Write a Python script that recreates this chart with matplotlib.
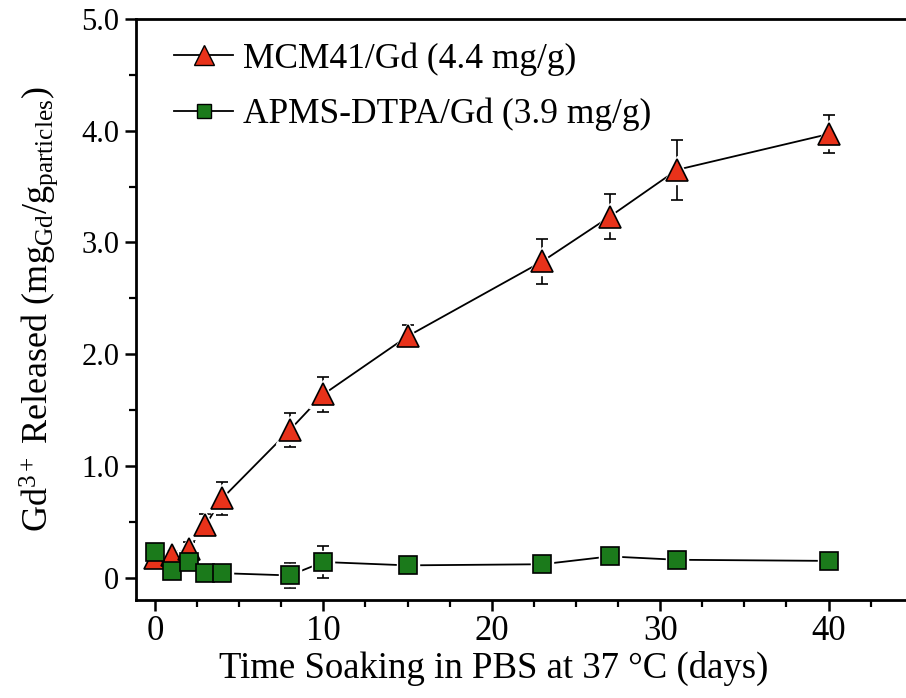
import matplotlib
matplotlib.use("Agg")
import matplotlib.pyplot as plt
from matplotlib.ticker import MultipleLocator, FixedFormatter, FixedLocator

plt.rcParams['font.family'] = ['Liberation Serif', 'DejaVu Serif']
plt.rcParams['mathtext.fontset'] = 'custom'
plt.rcParams['mathtext.rm'] = 'Liberation Serif'
plt.rcParams['mathtext.it'] = 'Liberation Serif:italic'

days = [0, 1, 2, 3, 4, 8, 10, 15, 23, 27, 31, 40]

mcm_vals = [0.18, 0.20, 0.26, 0.47, 0.71, 1.32, 1.64, 2.16, 2.83, 3.23, 3.65, 3.97]
mcm_err = [0.04, 0.04, 0.06, 0.10, 0.15, 0.15, 0.16, 0.10, 0.20, 0.20, 0.27, 0.17]

apms_vals = [0.23, 0.06, 0.14, 0.04, 0.04, 0.02, 0.14, 0.11, 0.12, 0.19, 0.16, 0.15]
apms_err = [0.05, 0.04, 0.05, 0.02, 0.02, 0.11, 0.14, 0.02, 0.03, 0.05, 0.06, 0.02]

labels = ['MCM41/Gd (4.4 mg/g)', 'APMS-DTPA/Gd (3.9 mg/g)']
ytick_vals = [0, 1, 2, 3, 4, 5]
ytick_labels = ['0', '1.0', '2.0', '3.0', '4.0', '5.0']

fig = plt.figure(figsize=(9.06, 6.98), dpi=100)
ax = fig.add_axes([0.150, 0.1404, 0.850, 0.8324])

red = '#e8321a'
green = '#1b7a1b'

# error bars first, then line + markers on top
ax.errorbar(days, mcm_vals, yerr=mcm_err, fmt='none', ecolor='black',
            elinewidth=1.2, capsize=4, capthick=1.2, zorder=2)
ax.errorbar(days, apms_vals, yerr=apms_err, fmt='none', ecolor='black',
            elinewidth=1.2, capsize=4, capthick=1.2, zorder=2)

ax.plot(days, mcm_vals, color='black', lw=1.3, zorder=3)
ax.plot(days, apms_vals, color='black', lw=1.3, zorder=3)

# white halo behind markers so the line stops short of them
ax.plot(days, mcm_vals, ls='none', marker='^', ms=20, color='white', zorder=4)
ax.plot(days, apms_vals, ls='none', marker='s', ms=16, color='white', zorder=4)

ax.plot(days, mcm_vals, ls='none', marker='^', ms=16, mfc=red, mec='black',
        mew=1.2, zorder=5)
ax.plot(days, apms_vals, ls='none', marker='s', ms=12.5, mfc=green, mec='black',
        mew=1.2, zorder=5)

# legend handles
h1, = ax.plot([], [], color='black', lw=1.3, marker='^', ms=15, mfc=red,
              mec='black', mew=1.0, label=labels[0])
h2, = ax.plot([], [], color='black', lw=1.3, marker='s', ms=10, mfc=green,
              mec='black', mew=1.0, label=labels[1])
ax.legend(handles=[h1, h2], loc='upper left', frameon=False, fontsize=25.5,
          handlelength=1.65, handletextpad=0.3, labelspacing=0.62,
          borderaxespad=0, borderpad=0, bbox_to_anchor=(0.05, 0.96))

ax.set_xlim(-1.13, 44.6)
ax.set_ylim(-0.2, 5.0)

ax.xaxis.set_major_locator(MultipleLocator(10))
ax.xaxis.set_minor_locator(MultipleLocator(2.5))
ax.yaxis.set_major_locator(FixedLocator(ytick_vals))
ax.yaxis.set_major_formatter(FixedFormatter(ytick_labels))
ax.yaxis.set_minor_locator(MultipleLocator(0.5))

ax.tick_params(axis='both', which='major', direction='out', length=8, width=1.8)
ax.tick_params(axis='x', which='major', labelsize=25, pad=3)
ax.tick_params(axis='y', which='major', labelsize=22, pad=4)
ax.tick_params(axis='both', which='minor', direction='out', length=5, width=1.6)
ax.tick_params(top=False, right=False)

for s in ['left', 'bottom', 'top']:
    ax.spines[s].set_linewidth(2)
ax.spines['right'].set_visible(False)

ax.set_xlabel('Time Soaking in PBS at 37 °C (days)', fontsize=26.5)
ax.xaxis.set_label_coords(0.465, -0.088)
ax.set_ylabel(r'Gd$^{3+}$ Released (mg$_{\mathrm{Gd}}$/g$_{\mathrm{particles}}$)',
              fontsize=26, labelpad=15)

fig.savefig('out.png', dpi=100)
